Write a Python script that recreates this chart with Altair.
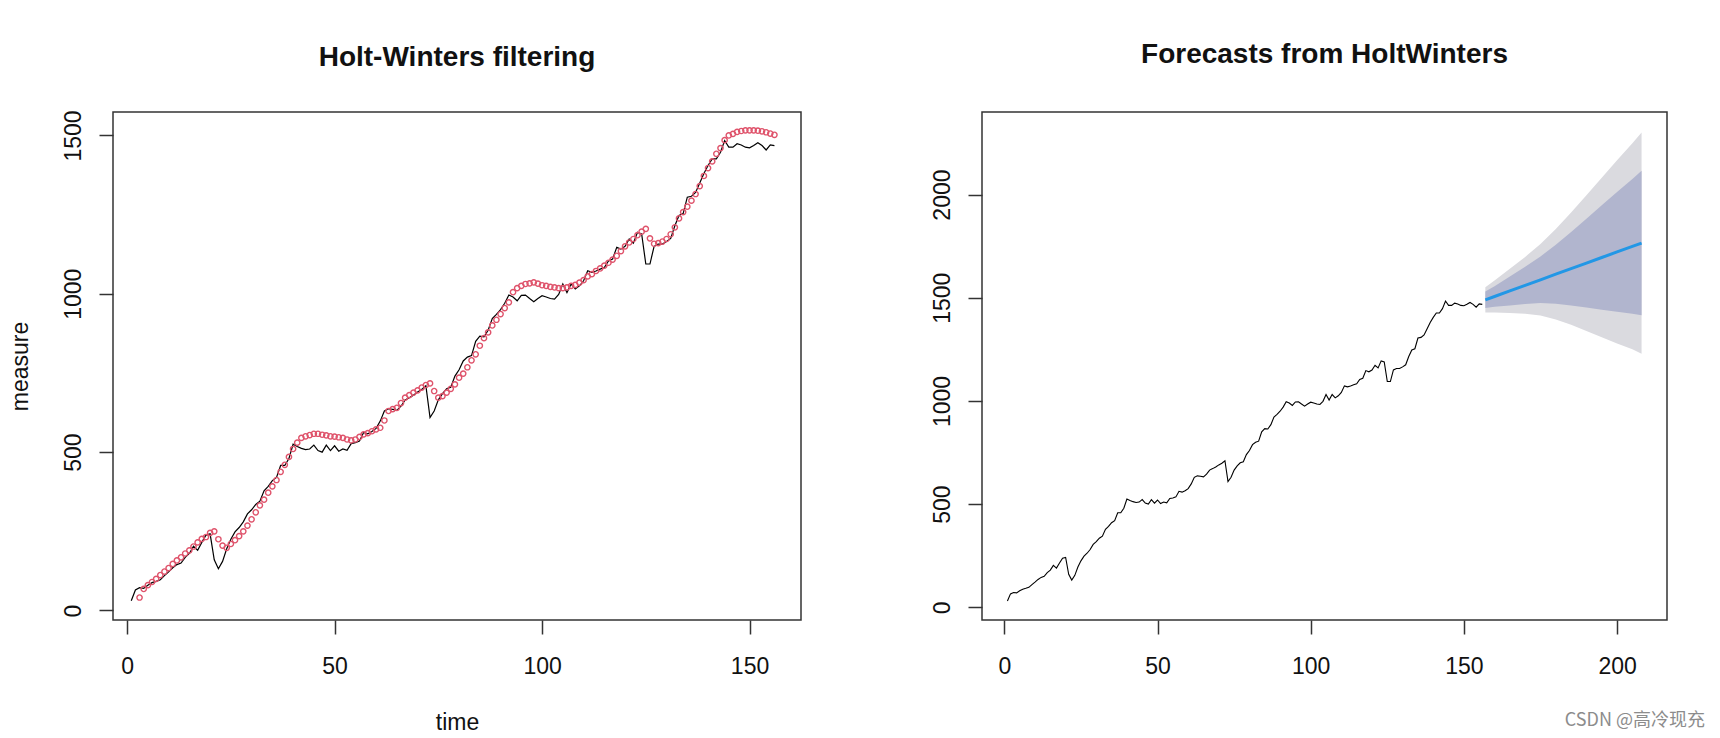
import altair as alt
import pandas as pd

# ---------------- data ----------------
time = list(range(1, 157))
measure = [
    31, 65, 72, 70, 80, 88, 92, 97, 110, 122,
    135, 145, 150, 168, 180, 203, 190, 215, 238, 242,
    160, 132, 155, 195, 225, 248, 262, 280, 305, 318,
    335, 345, 378, 392, 410, 420, 458, 458, 480, 525,
    518, 512, 508, 510, 522, 505, 500, 522, 505, 520,
    503, 510, 506, 527, 530, 535, 562, 558, 565, 575,
    598, 630, 637, 635, 632, 645, 665, 672, 680, 690,
    698, 710, 609, 630, 665, 685, 700, 705, 740, 760,
    788, 800, 805, 850, 866, 864, 885, 922, 935, 950,
    970, 996, 990, 978, 995, 996, 985, 975, 985, 994,
    990, 985, 983, 998, 1031, 1004, 1031, 1015, 1025, 1041,
    1073, 1068, 1072, 1078, 1083, 1104, 1110, 1147, 1141, 1150,
    1173, 1160, 1194, 1189, 1094, 1094, 1150, 1157, 1157, 1165,
    1175, 1215, 1247, 1253, 1305, 1308, 1320, 1350, 1380, 1405,
    1426, 1426, 1447, 1484, 1463, 1463, 1474, 1470, 1463, 1461,
    1468, 1477, 1468, 1454, 1470, 1468,
]

fit_time = list(range(3, 157))
fitted = [
    41, 68, 80, 90, 100, 112, 123, 134,
    147, 158, 168, 180, 190, 202, 215, 226, 232, 245,
    250, 225, 205, 198, 210, 222, 235, 250, 268, 288,
    310, 332, 350, 372, 392, 412, 438, 460, 485, 510,
    530, 545, 550, 554, 558, 558, 555, 553, 550, 549,
    547, 545, 540, 537, 540, 548, 556, 560, 566, 572,
    577, 600, 630, 636, 640, 655, 672, 680, 688, 695,
    704, 712, 717, 693, 672, 677, 688, 700, 714, 735,
    748, 768, 790, 809, 836, 860, 878, 900, 918, 936,
    955, 973, 1005, 1018, 1025, 1031, 1033, 1036, 1032, 1027,
    1025, 1022, 1020, 1018, 1018, 1020, 1025, 1028, 1035, 1043,
    1055, 1062, 1072, 1080, 1089, 1098, 1108, 1120, 1135, 1150,
    1162, 1173, 1185, 1196, 1205, 1175, 1158, 1160, 1165, 1173,
    1188, 1210, 1238, 1258, 1275, 1294, 1315, 1340, 1372, 1397,
    1418, 1442, 1460, 1485, 1500, 1505, 1511, 1514, 1516, 1516,
    1516, 1515, 1513, 1510, 1506, 1502,
]

fc_time = [157, 160, 165, 170, 175, 180, 185, 190, 195, 200, 205, 208]
fc_mean = [1490, 1506, 1533, 1560, 1587, 1614, 1641, 1668, 1695, 1722, 1749, 1765]
fc_lo80 = [1450, 1456, 1463, 1470, 1474, 1471, 1463, 1453, 1442, 1432, 1423, 1415]
fc_hi80 = [1530, 1556, 1603, 1650, 1700, 1757, 1819, 1883, 1948, 2012, 2075, 2115]
fc_lo95 = [1429, 1429, 1426, 1422, 1414, 1395, 1369, 1339, 1308, 1278, 1250, 1229]
fc_hi95 = [1551, 1583, 1640, 1698, 1760, 1833, 1913, 1997, 2082, 2166, 2248, 2301]

left_title = "Holt-Winters filtering"
right_title = "Forecasts from HoltWinters"
watermark = "CSDN @高冷现充"

left_xticks = [0, 50, 100, 150]
left_yticks = [0, 500, 1000, 1500]
right_xticks = [0, 50, 100, 150, 200]
right_yticks = [0, 500, 1000, 1500, 2000]

# ---------------- tables ----------------
obs = pd.DataFrame({"time": time, "measure": measure})
fit = pd.DataFrame({"time": fit_time, "fitted": fitted})
fc = pd.DataFrame({"time": fc_time, "mean": fc_mean, "lo80": fc_lo80,
                   "hi80": fc_hi80, "lo95": fc_lo95, "hi95": fc_hi95})
wm = pd.DataFrame({"label": [watermark]})

FONT = "Liberation Sans"
INK = "#111111"
FRAME = "#333333"


def x_axis(values, title=None):
    kw = dict(values=values, format="d", domain=False, grid=False, ticks=True,
              tickSize=14, tickColor=FRAME, tickWidth=1.5, labelFont=FONT,
              labelFontSize=23, labelColor=INK, labelPadding=21,
              labelBaseline="top", labelFlush=False, labelOverlap=False)
    if title is not None:
        kw.update(title=title, titleFont=FONT, titleFontSize=23,
                  titleFontWeight="normal", titleColor=INK, titlePadding=33)
    return alt.Axis(**kw)


def y_axis(values, title=None):
    kw = dict(values=values, format="d", domain=False, grid=False, ticks=True,
              tickSize=14, tickColor=FRAME, tickWidth=1.5, labelFont=FONT,
              labelFontSize=23, labelColor=INK, labelPadding=19, labelAngle=270,
              labelAlign="center", labelBaseline="alphabetic",
              labelFlush=False, labelOverlap=False)
    if title is not None:
        kw.update(title=title, titleFont=FONT, titleFontSize=23,
                  titleFontWeight="normal", titleColor=INK, titlePadding=30)
    return alt.Axis(**kw)


def make_title(text, offset):
    return alt.TitleParams(text, font=FONT, fontSize=28, fontWeight="bold",
                           color=INK, anchor="middle", offset=offset,
                           baseline="alphabetic")


# ---------------- left panel ----------------
lx = alt.Scale(domain=[-3.4, 162.4], nice=False, zero=False)
ly = alt.Scale(domain=[-30, 1574], nice=False, zero=False)

left_line = alt.Chart(obs).mark_line(color="black", strokeWidth=1.2).encode(
    x=alt.X("time:Q", scale=lx, axis=x_axis(left_xticks, "time")),
    y=alt.Y("measure:Q", scale=ly, axis=y_axis(left_yticks, "measure")),
)
left_pts = alt.Chart(fit).mark_point(shape="circle", filled=False, size=28,
                                     strokeWidth=1.4, color="#DF536B", opacity=1).encode(
    x=alt.X("time:Q", scale=lx),
    y=alt.Y("fitted:Q", scale=ly),
)
left = alt.layer(left_line, left_pts).properties(
    width=688, height=508, title=make_title(left_title, 16))

# ---------------- right panel ----------------
rx = alt.Scale(domain=[-7.3, 216.3], nice=False, zero=False)
ry = alt.Scale(domain=[-61.5, 2400], nice=False, zero=False)

band95 = alt.Chart(fc).mark_area(color="#DADADF", opacity=1).encode(
    x=alt.X("time:Q", scale=rx, axis=x_axis(right_xticks), title=None),
    y=alt.Y("lo95:Q", scale=ry, axis=y_axis(right_yticks), title=None),
    y2="hi95:Q",
)
band80 = alt.Chart(fc).mark_area(color="#B1B5CE", opacity=1).encode(
    x=alt.X("time:Q", scale=rx),
    y=alt.Y("lo80:Q", scale=ry),
    y2="hi80:Q",
)
mean_line = alt.Chart(fc).mark_line(color="#2297E6", strokeWidth=3).encode(
    x=alt.X("time:Q", scale=rx),
    y=alt.Y("mean:Q", scale=ry),
)
right_line = alt.Chart(obs).mark_line(color="black", strokeWidth=1.1).encode(
    x=alt.X("time:Q", scale=rx),
    y=alt.Y("measure:Q", scale=ry),
)
wm_text = alt.Chart(wm).mark_text(font="Noto Sans CJK SC", fontSize=18,
                                  color="#8c8c8c", align="right",
                                  baseline="alphabetic").encode(
    text="label:N", x=alt.value(723), y=alt.value(614))

right = alt.layer(band95, band80, mean_line, right_line, wm_text).properties(
    width=685, height=508, title=make_title(right_title, 21))

chart = alt.hconcat(left, right, spacing=128).properties(
    padding={"top": 32, "left": 0, "right": 0, "bottom": 0},
    background="white",
).configure_view(stroke=FRAME, strokeWidth=1.5)

chart.save("out.html", embed_options={"renderer": "svg", "actions": False})
